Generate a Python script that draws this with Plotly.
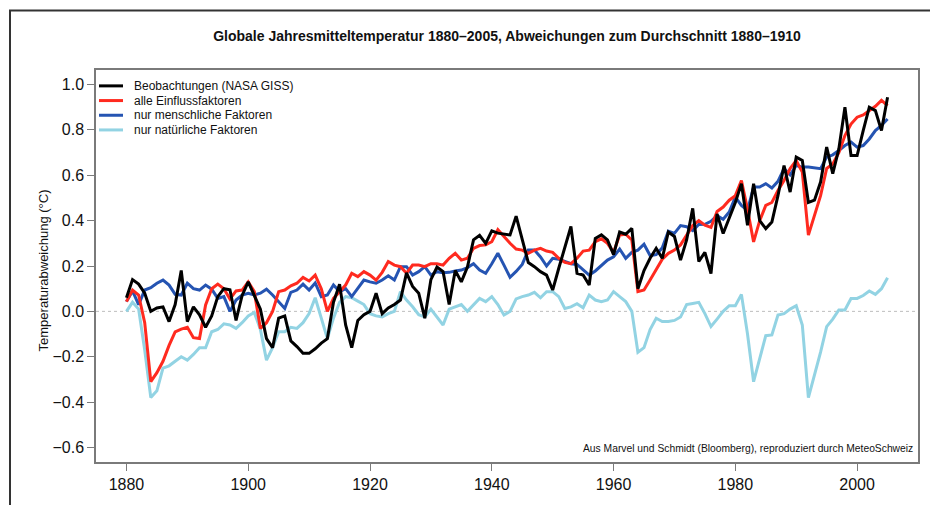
import plotly.graph_objects as go

# years 1880-2005
years = list(range(1880, 2006))

# Beobachtungen (NASA GISS)
obs = [
    0.06, 0.14, 0.12, 0.08, 0.0, 0.015, 0.02, -0.045, 0.03, 0.18,
    -0.045, 0.02, -0.015, -0.07, -0.02, 0.065, 0.10, 0.095, -0.04, 0.07,
    0.13, 0.07, 0.01, -0.12, -0.16, -0.03, -0.02, -0.13, -0.155, -0.185,
    -0.185, -0.165, -0.14, -0.12, 0.04, 0.12, -0.06, -0.16, -0.04, -0.015,
    0.0, 0.08, -0.01, 0.015, 0.03, 0.05, 0.17, 0.11, 0.08, -0.03,
    0.14, 0.195, 0.175, 0.03, 0.18, 0.13, 0.195, 0.315, 0.335, 0.30,
    0.355, 0.345, 0.34, 0.337, 0.42, 0.315, 0.215, 0.197, 0.175, 0.16,
    0.094, 0.19, 0.278, 0.374, 0.168, 0.16, 0.116, 0.322, 0.337, 0.315,
    0.25, 0.35, 0.34, 0.366, 0.10, 0.18, 0.234, 0.278, 0.234, 0.35,
    0.33, 0.226, 0.315, 0.454, 0.22, 0.26, 0.167, 0.43, 0.343, 0.41,
    0.48, 0.563, 0.38, 0.563, 0.40, 0.365, 0.394, 0.51, 0.643, 0.526,
    0.68, 0.665, 0.48, 0.49, 0.57, 0.724, 0.607, 0.716, 0.90, 0.687,
    0.687, 0.797, 0.90, 0.885, 0.797, 0.944,
]

# alle Einflussfaktoren
all_forcings = [
    0.043, 0.094, 0.072, -0.05, -0.31, -0.27, -0.22, -0.15, -0.09, -0.078,
    -0.07, -0.116, -0.12, 0.028, 0.10, 0.12, 0.10, 0.054, 0.09, 0.094,
    0.13, 0.087, -0.075, -0.05, 0.0, 0.087, 0.094, 0.113, 0.124, 0.15,
    0.134, 0.16, 0.10, 0.0, 0.057, 0.087, 0.116, 0.168, 0.153, 0.175,
    0.16, 0.138, 0.172, 0.22, 0.204, 0.197, 0.168, 0.204, 0.204, 0.197,
    0.21, 0.21, 0.204, 0.234, 0.256, 0.226, 0.234, 0.278, 0.29, 0.293,
    0.307, 0.36, 0.33, 0.30, 0.275, 0.27, 0.256, 0.27, 0.278, 0.266,
    0.26, 0.234, 0.216, 0.21, 0.234, 0.266, 0.27, 0.307, 0.32, 0.30,
    0.26, 0.337, 0.34, 0.315, 0.087, 0.094, 0.138, 0.187, 0.23, 0.256,
    0.27, 0.293, 0.334, 0.378, 0.40, 0.38, 0.37, 0.44, 0.46, 0.49,
    0.51, 0.577, 0.45, 0.306, 0.40, 0.467, 0.48, 0.533, 0.577, 0.63,
    0.665, 0.614, 0.336, 0.423, 0.51, 0.63, 0.65, 0.70, 0.775, 0.826,
    0.856, 0.866, 0.885, 0.904, 0.93, 0.907,
]

# nur menschliche Faktoren
human = [
    0.043, 0.09, 0.03, 0.094, 0.104, 0.124, 0.138, 0.116, 0.075, 0.072,
    0.124, 0.10, 0.094, 0.116, 0.098, 0.057, 0.065, 0.0, 0.05, 0.072,
    0.08, 0.072, 0.08, 0.098, 0.072, 0.04, 0.013, 0.084, 0.094, 0.12,
    0.094, 0.125, 0.065, 0.072, 0.116, 0.087, 0.10, 0.065, 0.10, 0.138,
    0.13, 0.124, 0.138, 0.157, 0.138, 0.197, 0.197, 0.16, 0.175, 0.197,
    0.16, 0.175, 0.17, 0.172, 0.178, 0.182, 0.193, 0.21, 0.182, 0.168,
    0.21, 0.256, 0.204, 0.15, 0.176, 0.207, 0.27, 0.27, 0.24, 0.2,
    0.234, 0.23, 0.22, 0.21, 0.207, 0.182, 0.16, 0.178, 0.2, 0.226,
    0.24, 0.275, 0.234, 0.26, 0.27, 0.296, 0.246, 0.25, 0.28, 0.354,
    0.344, 0.378, 0.373, 0.356, 0.383, 0.384, 0.397, 0.422, 0.406, 0.438,
    0.504, 0.467, 0.445, 0.548, 0.548, 0.563, 0.544, 0.573, 0.629, 0.602,
    0.643, 0.636, 0.636, 0.633, 0.629, 0.68, 0.69, 0.709, 0.731, 0.746,
    0.724, 0.731, 0.76, 0.797, 0.82, 0.848,
]

# nur natürliche Faktoren
natural = [
    0.0, 0.04, 0.01, -0.17, -0.38, -0.35, -0.25, -0.24, -0.22, -0.20,
    -0.215, -0.19, -0.16, -0.16, -0.09, -0.08, -0.055, -0.06, -0.075, -0.05,
    -0.02, -0.005, -0.08, -0.215, -0.16, -0.09, -0.09, -0.07, -0.075, -0.05,
    -0.01, 0.06, -0.03, -0.12, -0.03, 0.04, 0.065, 0.06, 0.045, 0.03,
    -0.01, -0.02, -0.025, -0.01, 0.0, 0.087, 0.05, 0.02, -0.015, -0.025,
    0.01, -0.025, -0.06, 0.01, 0.02, 0.03, 0.0, 0.03, 0.057, 0.043,
    0.065, 0.03, -0.016, 0.0, 0.055, 0.065, 0.072, 0.084, 0.06, 0.087,
    0.087, 0.065, 0.013, 0.02, 0.034, 0.016, 0.072, 0.05, 0.043, 0.05,
    0.087, 0.065, 0.043, 0.0, -0.18, -0.16, -0.08, -0.03, -0.045, -0.045,
    -0.04, -0.025, 0.03, 0.035, 0.04, -0.01, -0.067, -0.034, 0.0, 0.025,
    0.025, 0.075, -0.1, -0.31, -0.21, -0.107, -0.104, -0.016, -0.01, 0.01,
    0.025, -0.06, -0.38, -0.28, -0.18, -0.067, -0.034, 0.006, 0.006, 0.057,
    0.057, 0.07, 0.09, 0.075, 0.1, 0.148,
]

series_names = [
    'Beobachtungen (NASA GISS)',
    'alle Einflussfaktoren',
    'nur menschliche Faktoren',
    'nur natürliche Faktoren',
]
series_colors = ['#000000', '#ff2a1f', '#2554b2', '#92d3e3']

x_ticks = [1880, 1900, 1920, 1940, 1960, 1980, 2000]
y_ticks = [-0.6, -0.4, -0.2, 0.0, 0.2, 0.4, 0.6, 0.8, 1.0]

FONT = 'Liberation Sans, Arial, Helvetica, sans-serif'

# the html body has an 8px margin, so the figure is a bit smaller and
# all page positions below are given in page pixels
OFF = 8
W, H = 938 - OFF, 505 - OFF
L, R, T, B = 96, 918, 70, 465   # plot area in page pixels


def px(x):
    return (x - L) / (R - L)


def py(y):
    return (B - y) / (B - T)


fig = go.Figure()

# draw order: natural, human, all, observations
order = [3, 2, 1, 0]
data = [obs, all_forcings, human, natural]
for i in order:
    fig.add_trace(go.Scatter(
        x=years,
        y=data[i],
        name=series_names[i],
        mode='lines',
        line=dict(color=series_colors[i], width=3),
        showlegend=False
    ))

shapes = []
annotations = []

# zero line
shapes.append(dict(
    type='line', xref='paper', yref='y', x0=0, x1=1, y0=0, y1=0,
    line=dict(color='#bdbdbd', width=1, dash='dot'), layer='below'
))

# outer border of the picture
shapes.append(dict(
    type='rect', xref='paper', yref='paper',
    x0=px(10), x1=px(932), y0=py(530), y1=py(10),
    line=dict(color='#333333', width=2)
))

# legend drawn by hand (tight spacing)
for j, name in enumerate(series_names):
    yy = 86 + j * 14.8
    shapes.append(dict(
        type='line', xref='paper', yref='paper',
        x0=px(99), x1=px(123), y0=py(yy), y1=py(yy),
        line=dict(color=series_colors[j], width=3)
    ))
    annotations.append(dict(
        text=name, xref='paper', yref='paper', x=px(132), y=py(yy),
        xanchor='left', yanchor='middle', showarrow=False,
        font=dict(family=FONT, size=12, color='#111111')
    ))

# y axis title
annotations.append(dict(
    text='Temperaturabweichung (°C)', xref='paper', yref='paper',
    x=px(43), y=py(272), textangle=-90, showarrow=False,
    xanchor='center', yanchor='middle',
    font=dict(family=FONT, size=13, color='#111111')
))

# source note
annotations.append(dict(
    text='Aus Marvel und Schmidt (Bloomberg), reproduziert durch MeteoSchweiz',
    xref='paper', yref='paper', x=px(915), y=py(451),
    xanchor='right', yanchor='middle', showarrow=False,
    font=dict(family=FONT, size=10.3, color='#111111')
))

axis_style = dict(
    showgrid=False, zeroline=False, showline=True, mirror=True,
    linecolor='#7a7a7a', linewidth=1.5,
    ticks='outside', ticklen=7, tickwidth=1.2, tickcolor='#7a7a7a',
    tickfont=dict(family=FONT, size=16, color='#111111')
)

fig.update_layout(
    width=W, height=H,
    margin=dict(l=L - OFF, r=W - (R - OFF), t=T - OFF, b=H - (B - OFF)),
    paper_bgcolor='white', plot_bgcolor='white',
    title=dict(
        text='<b>Globale Jahresmitteltemperatur 1880–2005, Abweichungen zum Durchschnitt 1880–1910</b>',
        xref='paper', x=0.5, xanchor='center',
        yref='container', y=1 - (36 - OFF) / H, yanchor='middle',
        font=dict(family=FONT, size=14, color='#111111')
    ),
    xaxis=dict(range=[1875, 2010], tickvals=x_ticks, **axis_style),
    yaxis=dict(range=[-0.664, 1.064], tickvals=y_ticks, tickformat='.1f', **axis_style),
    shapes=shapes,
    annotations=annotations,
    showlegend=False
)

fig.write_html('out.html')
